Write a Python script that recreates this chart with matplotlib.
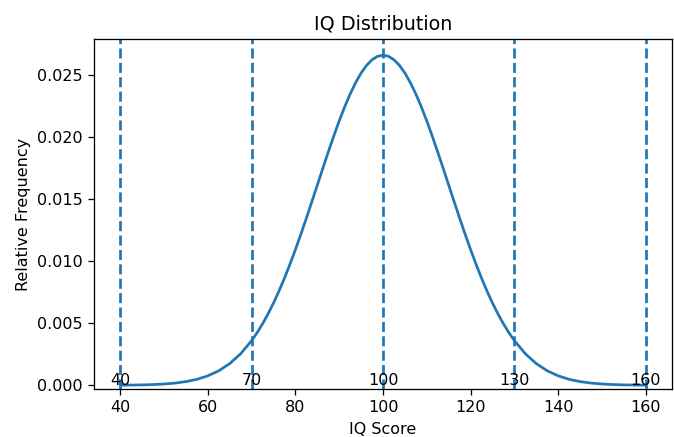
import matplotlib
matplotlib.use("Agg")
import matplotlib.pyplot as plt

# left half of the curve (IQ 40..98.75); right half mirrors it
left_scores = [40, 42.5, 45, 47.5, 50, 52.5, 55, 57.5, 60, 62.5, 65, 67.5, 70,
               71.25, 72.5, 73.75, 75, 76.25, 77.5, 78.75, 80, 81.25, 82.5, 83.75,
               85, 86.25, 87.5, 88.75, 90, 91.25, 92.5, 93.75, 95, 96.25, 97.5, 98.75]
left_freq = [0.0000089, 0.0000171, 0.0000320, 0.0000582, 0.000103, 0.000177,
             0.000295, 0.000480, 0.000760, 0.001169, 0.001748, 0.002543, 0.003599,
             0.004237, 0.004954, 0.005752, 0.006632, 0.007594, 0.008634, 0.009750,
             0.010934, 0.012176, 0.013467, 0.014791, 0.016131, 0.017472, 0.018794,
             0.020076, 0.021297, 0.022435, 0.023471, 0.024385, 0.025159, 0.025778,
             0.026229, 0.026504]
peak_score = 100
peak_freq = 0.026596

iq_scores = left_scores + [peak_score] + [2 * peak_score - s for s in left_scores[::-1]]
rel_freq = left_freq + [peak_freq] + left_freq[::-1]

marker_scores = [40, 70, 100, 130, 160]
marker_labels = ["40", "70", "100", "130", "160"]

fig = plt.figure(figsize=(674 / 115, 437 / 115), dpi=115)
ax = fig.add_subplot(111)

ax.plot(iq_scores, rel_freq, color="#1f77b4", linewidth=1.7)

for s, lab in zip(marker_scores, marker_labels):
    ax.axvline(s, color="#1f77b4", linestyle="--", linewidth=1.7)
    ax.text(s, 0, lab, ha="center")

ax.set_xlim(34, 166)
ax.set_ylim(-0.0003, 0.0279)
ax.set_title("IQ Distribution")
ax.set_xlabel("IQ Score")
ax.set_ylabel("Relative Frequency")

fig.subplots_adjust(left=94 / 674, right=672 / 674, top=1 - 39 / 437, bottom=1 - 389 / 437)
fig.savefig("out.png")
